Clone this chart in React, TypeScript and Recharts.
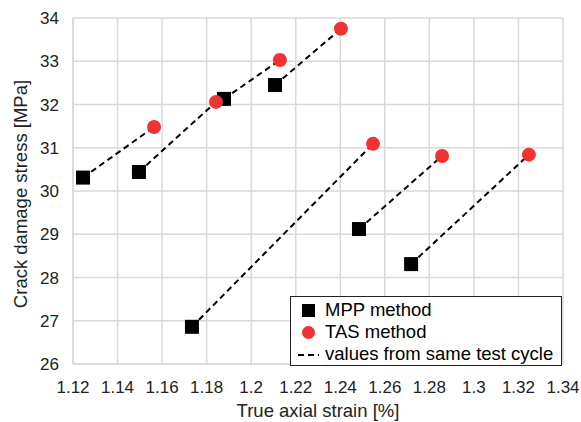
import React from 'react';
import { ScatterChart, Scatter, XAxis, YAxis, CartesianGrid, Legend } from 'recharts';

const mppStrain = [1.1245, 1.1496, 1.1878, 1.2107, 1.1734, 1.2484, 1.2718];
const mppStress = [30.31, 30.44, 32.13, 32.45, 26.86, 29.12, 28.31];
const tasStrain = [1.1564, 1.1842, 1.2129, 1.2403, 1.2547, 1.2857, 1.3247];
const tasStress = [31.48, 32.06, 33.03, 33.75, 31.09, 30.81, 30.84];
const xTicks = [1.12, 1.14, 1.16, 1.18, 1.2, 1.22, 1.24, 1.26, 1.28, 1.3, 1.32, 1.34];
const yTicks = [26, 27, 28, 29, 30, 31, 32, 33, 34];
const legendLabels = ['MPP method', 'TAS method', 'values from same test cycle'];
const xTitle = 'True axial strain [%]';
const yTitle = 'Crack damage stress [MPa]';

const mppData = mppStrain.map((x, i) => ({ x, y: mppStress[i] }));
const tasData = tasStrain.map((x, i) => ({ x, y: tasStress[i] }));
const pairs = mppStrain.map((_, i) => [mppData[i], tasData[i]]);

const FONT = '"Liberation Sans", Arial, sans-serif';
const RED = '#F03232';

const Square = (p: any) => {
  const { cx, cy } = p;
  if (cx == null || cy == null) return <g />;
  return <rect x={cx - 7} y={cy - 7} width={14} height={14} fill="#000" />;
};
const Dot = (p: any) => {
  const { cx, cy } = p;
  if (cx == null || cy == null) return <g />;
  return <circle cx={cx} cy={cy} r={7} fill={RED} />;
};
const NoShape = () => <g />;

const YTitle = (props: any) => {
  const vb = props.viewBox || { x: 0, y: 0, width: 0, height: 0 };
  const cx = vb.x + 20;
  const cy = vb.y + vb.height / 2 + 3;
  return (
    <text
      x={cx}
      y={cy}
      transform={`rotate(-90, ${cx}, ${cy})`}
      textAnchor="middle"
      dominantBaseline="central"
      fontSize={18.5}
      fontFamily={FONT}
      fill="#222"
    >
      {yTitle}
    </text>
  );
};

const XTitle = (props: any) => {
  const vb = props.viewBox || { x: 0, y: 0, width: 0, height: 0 };
  const cx = vb.x + vb.width / 2;
  return (
    <text x={cx} y={vb.y + 53} textAnchor="middle" fontSize={18.5} fontFamily={FONT} fill="#222">
      {xTitle}
    </text>
  );
};

const LegendBox = () => (
  <div
    style={{
      border: '1px solid #222',
      background: '#fff',
      fontFamily: FONT,
      fontSize: 18.5,
      color: '#000',
      boxSizing: 'border-box',
      padding: '2px 0 0 6px',
      lineHeight: '22px',
    }}
  >
    {legendLabels.map((label, i) => (
      <div key={label} style={{ display: 'flex', alignItems: 'center', height: 22 }}>
        <svg width={24} height={22} style={{ marginRight: 4 }}>
          {i === 0 && <rect x={5} y={5} width={13} height={13} fill="#000" />}
          {i === 1 && <circle cx={11.5} cy={11.5} r={6.5} fill={RED} />}
          {i === 2 && (
            <line x1={1} y1={12} x2={22} y2={12} stroke="#000" strokeWidth={2} strokeDasharray="6 4" />
          )}
        </svg>
        <span style={{ whiteSpace: 'nowrap' }}>{label}</span>
      </div>
    ))}
  </div>
);

export default function App() {
  return (
    <div style={{ position: 'absolute', left: 0, top: 0, background: '#fff', fontFamily: FONT }}>
      <ScatterChart width={581} height={422} margin={{ top: 18, right: 18, left: 0, bottom: 0 }} style={{ fontFamily: FONT }}>
        <CartesianGrid stroke="#d9d9d9" strokeWidth={1.5} horizontal vertical />
        <XAxis
          type="number"
          dataKey="x"
          domain={[1.12, 1.34]}
          ticks={xTicks}
          tickFormatter={(v: number) => String(Number(v.toFixed(2)))}
          height={58}
          axisLine={{ stroke: '#d9d9d9', strokeWidth: 1.5 }}
          tickLine={false}
          tick={{ fill: '#222', fontSize: 17, fontFamily: FONT }}
          tickMargin={11}
          allowDataOverflow
          label={<XTitle />}
        />
        <YAxis
          type="number"
          dataKey="y"
          domain={[26, 34]}
          ticks={yTicks}
          width={73}
          axisLine={{ stroke: '#d9d9d9', strokeWidth: 1.5 }}
          tickLine={false}
          tick={{ fill: '#222', fontSize: 17, fontFamily: FONT }}
          tickMargin={8}
          allowDataOverflow
          label={<YTitle />}
        />
        {pairs.map((d, i) => (
          <Scatter
            key={'pair' + i}
            data={d}
            line={{ stroke: '#000', strokeWidth: 2, strokeDasharray: '6 4' }}
            shape={NoShape}
            isAnimationActive={false}
            legendType="none"
          />
        ))}
        <Scatter name="MPP method" data={mppData} shape={Square} isAnimationActive={false} />
        <Scatter name="TAS method" data={tasData} shape={Dot} isAnimationActive={false} />
        <Legend
          layout="horizontal"
          verticalAlign="middle"
          align="center"
          content={() => <LegendBox />}
          wrapperStyle={{ position: 'absolute', left: 290, top: 296, width: 272, height: 66, margin: 0 }}
        />
      </ScatterChart>
    </div>
  );
}
